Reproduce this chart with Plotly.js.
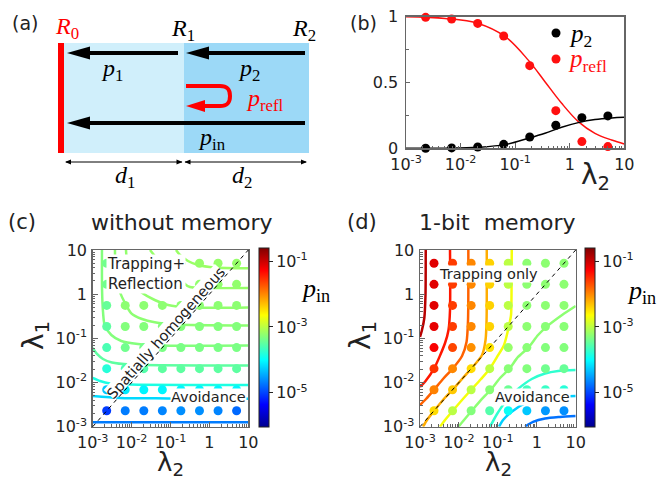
<!DOCTYPE html>
<html><head><meta charset="utf-8">
<script src="https://cdn.plot.ly/plotly-3.0.1.min.js"></script>
<style>html,body{margin:0;padding:0;background:#fff}#chart{width:671px;height:481px}</style>
</head><body><div id="chart"></div>
<script>
// ================= DATA =================
// lambda grid used by the simulations (both axes of c, d and x of b)
const lam = [0.00229, 0.00686, 0.0206, 0.0617, 0.185, 0.556, 1.67, 5.0];
const lamTickVals = [0.001, 0.01, 0.1, 1, 10];
const lamTickText = ['10<sup>-3</sup>', '10<sup>-2</sup>', '10<sup>-1</sup>', '1', '10'];

// (b) simulation points and theory curves
const pReflSim = [0.995, 0.982, 0.949, 0.853, 0.628, 0.286, 0.051, 0.013];
const p2Sim    = [0.000, 0.003, 0.010, 0.030, 0.086, 0.175, 0.233, 0.246];
const theoryLam   = [0.001, 0.00519, 0.0211, 0.0652, 0.174, 0.352, 0.711, 1.435, 2.90, 5.86, 10];
const pReflTheory = [1.000, 0.987, 0.949, 0.850, 0.670, 0.506, 0.342, 0.203, 0.114, 0.063, 0.033];
const p2Theory    = [0.000, 0.001, 0.008, 0.028, 0.076, 0.114, 0.160, 0.195, 0.218, 0.230, 0.235];

// (c) log10 p_in at the grid points, rows = lambda1 (bottom to top), cols = lambda2
const cLogPin = [
  [-5.05, -4.70, -4.70, -4.65, -4.60, -4.60, -4.65, -4.80],
  [-4.30, -4.10, -4.05, -4.05, -4.05, -4.05, -4.05, -4.05],
  [-3.80, -3.60, -3.55, -3.50, -3.50, -3.50, -3.50, -3.50],
  [-3.60, -3.40, -3.38, -3.35, -3.35, -3.35, -3.35, -3.35],
  [-3.50, -3.30, -3.30, -3.30, -3.30, -3.30, -3.30, -3.30],
  [-3.45, -3.25, -3.25, -3.25, -3.25, -3.25, -3.25, -3.25],
  [-3.40, -3.22, -3.22, -3.22, -3.22, -3.22, -3.22, -3.22],
  [-3.40, -3.20, -3.20, -3.20, -3.20, -3.20, -3.20, -3.20]
];
// (c) theory contour lines (lambda2, lambda1) and their log10 p_in level
const cContourLam2 = [
  [0.001, 0.1, 10],
  [0.001, 0.005, 0.0863, 10],
  [0.001, 0.00154, 0.00279, 0.0091, 10],
  [0.001, 0.00129, 0.00184, 0.00313, 0.0091, 10],
  [0.00173, 0.00174, 0.00184, 0.00203, 0.00301, 0.00543, 0.0146, 0.0537, 10],
  [0.00374, 0.00397, 0.00494, 0.00676, 0.00982, 0.0185, 0.0393, 0.1306, 10],
  [0.00718, 0.00808, 0.01153, 0.01746, 0.0393, 0.0863, 0.317, 10],
  [0.0297, 0.0537, 0.1094, 0.1755, 0.2223, 0.317, 0.770, 10],
  [0.1384, 0.1755, 0.2818, 0.509, 1.393, 10]
];
const cContourLam1 = [
  [0.00126, 0.00126, 0.00126],
  [0.00495, 0.00447, 0.00437, 0.00427],
  [0.0127, 0.0108, 0.0095, 0.0090, 0.0088],
  [0.0605, 0.0443, 0.0341, 0.0284, 0.0256, 0.0243],
  [10, 1.24, 0.401, 0.200, 0.119, 0.0871, 0.0745, 0.0689, 0.0689],
  [10, 2.09, 1.14, 0.631, 0.369, 0.274, 0.231, 0.206, 0.195],
  [10, 3.52, 1.614, 1.12, 0.738, 0.569, 0.500, 0.500],
  [10, 5.35, 3.18, 2.45, 1.79, 1.454, 1.38, 1.38],
  [10, 7.71, 5.64, 4.57, 4.02, 3.85]
];
const cContourLevel = [-4.7, -4.2, -3.85, -3.5, -3.3, -3.25, -3.22, -3.2, -3.18];

// (d) log10 p_in at the grid points
const dLogPin = [
  [-2.45, -3.00, -3.30, -3.55, -3.95, -4.30, -4.55, -4.60],
  [-1.97, -2.35, -3.00, -3.27, -3.43, -3.65, -3.70, -3.80],
  [-1.55, -2.00, -2.45, -3.00, -3.27, -3.30, -3.40, -3.45],
  [-1.25, -1.65, -2.05, -2.50, -3.20, -3.27, -3.30, -3.30],
  [-1.15, -1.60, -2.00, -2.40, -3.00, -3.25, -3.27, -3.27],
  [-1.12, -1.60, -2.00, -2.40, -3.00, -3.25, -3.25, -3.25],
  [-1.12, -1.60, -2.00, -2.40, -3.00, -3.25, -3.25, -3.25],
  [-1.12, -1.60, -2.00, -2.40, -3.00, -3.25, -3.25, -3.25]
];
const dContourLam2 = [
  [0.001403, 0.001384, 0.001291, 0.001125, 0.001],
  [0.0059, 0.0059, 0.0054, 0.0044, 0.00229, 0.001345, 0.001],
  [0.01745, 0.01714, 0.01568, 0.01202, 0.00689, 0.0039, 0.00229, 0.001426, 0.001],
  [0.0519, 0.0513, 0.0483, 0.0393, 0.0207, 0.01202, 0.00689, 0.0039, 0.00229, 0.001514, 0.001194],
  [0.2275, 0.2249, 0.2183, 0.194, 0.1442, 0.0953, 0.0619, 0.037, 0.0207, 0.01202, 0.00689, 0.0044, 0.00327],
  [10, 4.47, 1.806, 1.079, 0.608, 0.3304, 0.1977, 0.114, 0.0656, 0.037, 0.02133, 0.01352, 0.00977],
  [10, 3.53, 1.633, 0.743, 0.330, 0.1625, 0.0953, 0.0630],
  [10, 2.95, 1.216, 0.608, 0.2275, 0.136, 0.1075],
  [10, 3.97, 1.633, 0.803, 0.5]
];
const dContourLam1 = [
  [10, 0.958, 0.289, 0.1546, 0.1074],
  [10, 0.4385, 0.1546, 0.0785, 0.0206, 0.01044, 0.00793],
  [10, 0.2604, 0.0827, 0.0399, 0.0206, 0.01202, 0.00685, 0.00424, 0.0031],
  [10, 0.2604, 0.0918, 0.042, 0.0206, 0.01202, 0.00685, 0.00403, 0.00228, 0.00142, 0.001],
  [10, 1.243, 0.338, 0.194, 0.0708, 0.0379, 0.0206, 0.01202, 0.00685, 0.00403, 0.00228, 0.00142, 0.001],
  [0.54, 0.338, 0.1845, 0.119, 0.0618, 0.0379, 0.0206, 0.01268, 0.00685, 0.00403, 0.00228, 0.00142, 0.001],
  [0.01923, 0.01824, 0.01603, 0.01202, 0.00715, 0.00382, 0.00194, 0.001],
  [0.00495, 0.00471, 0.00435, 0.00368, 0.00219, 0.00142, 0.001],
  [0.00175, 0.00166, 0.00153, 0.00128, 0.001]
];
const dContourLevel = [-0.9, -1.4, -1.8, -2.2, -2.7, -3.25, -3.75, -4.25, -4.75];

const cbTickVals = [-1, -3, -5];
const cbTickText = ['10<sup>-1</sup>', '10<sup>-3</sup>', '10<sup>-5</sup>'];
const cbMinorVals = [-2, -4];

// ================= STYLE =================
const W = 671, H = 481;
const CMIN = -6.04, CMAX = -0.6;
const jetStops = [[0,[0,0,143]],[0.125,[0,0,255]],[0.375,[0,255,255]],[0.625,[255,255,0]],[0.875,[255,0,0]],[1,[128,0,0]]];
const jetScale = jetStops.map(s => [s[0], 'rgb(' + s[1].join(',') + ')']);
function jetColor(v) {
  let t = (v - CMIN) / (CMAX - CMIN); t = Math.max(0, Math.min(1, t));
  for (let i = 1; i < jetStops.length; i++) {
    if (t <= jetStops[i][0]) {
      const a = jetStops[i-1], b = jetStops[i], f = (t - a[0]) / (b[0] - a[0]);
      const c = a[1].map((v0, k) => Math.round(v0 + f * (b[1][k] - v0)));
      return 'rgb(' + c.join(',') + ')';
    }
  }
  return 'rgb(128,0,0)';
}
const SANS = 'DejaVu Sans';
const SERIF = 'Liberation Serif';
const AX = '#666';
const TICKFONT = {family: SANS, size: 16, color: '#222'};

function gridTrace(vals, xa, ya, cbX) {
  const x = [], y = [], c = [];
  for (let r = 0; r < lam.length; r++) for (let k = 0; k < lam.length; k++) {
    x.push(lam[k]); y.push(lam[r]); c.push(vals[r][k]);
  }
  return {type: 'scatter', mode: 'markers', x, y, xaxis: xa, yaxis: ya, showlegend: false,
    marker: {size: 9, color: c, colorscale: jetScale, cmin: CMIN, cmax: CMAX,
      colorbar: {x: cbX / W, xanchor: 'left', xpad: 0, y: 1 - 337.5 / H, yanchor: 'middle', ypad: 0,
        len: 179 / H, lenmode: 'fraction', thickness: 10, thicknessmode: 'pixels',
        outlinewidth: 1, outlinecolor: '#222', tickmode: 'array', tickvals: cbTickVals, ticktext: cbTickText,
        ticks: 'outside', ticklen: 4, tickcolor: '#222', tickfont: TICKFONT,
        minor: {tickmode: 'array', tickvals: cbMinorVals, ticks: 'outside', ticklen: 4, tickcolor: '#222'}}}};
}
function contourTraces(l2s, l1s, lev, xa, ya) {
  return l2s.map((xs, i) => ({type: 'scatter', mode: 'lines', x: xs, y: l1s[i], xaxis: xa, yaxis: ya,
    showlegend: false, line: {color: jetColor(lev[i]), width: 2.5, shape: 'spline', smoothing: 0.7}}));
}

const traces = [];
// (b)
traces.push({type: 'scatter', mode: 'lines', x: theoryLam, y: pReflTheory, xaxis: 'x', yaxis: 'y', showlegend: false,
  line: {color: '#ff1010', width: 1.5, shape: 'spline'}});
traces.push({type: 'scatter', mode: 'lines', x: theoryLam, y: p2Theory, xaxis: 'x', yaxis: 'y', showlegend: false,
  line: {color: '#000', width: 1.5, shape: 'spline'}});
traces.push({type: 'scatter', mode: 'markers', x: lam, y: p2Sim, xaxis: 'x', yaxis: 'y', showlegend: false, cliponaxis: false,
  marker: {size: 9, color: '#000'}});
traces.push({type: 'scatter', mode: 'markers', x: lam, y: pReflSim, xaxis: 'x', yaxis: 'y', showlegend: false, cliponaxis: false,
  marker: {size: 9, color: '#ff1010'}});
// (c)
contourTraces(cContourLam2, cContourLam1, cContourLevel, 'x2', 'y2').forEach(t => traces.push(t));
traces.push(gridTrace(cLogPin, 'x2', 'y2', 259.3));
// (d)
contourTraces(dContourLam2, dContourLam1, dContourLevel, 'x3', 'y3').forEach(t => traces.push(t));
traces.push(gridTrace(dLogPin, 'x3', 'y3', 585));
// pixel overlay for the diagram and labels
traces.push({type: 'scatter', x: [], y: [], xaxis: 'x4', yaxis: 'y4', showlegend: false});

const minorLog = [];
for (let e = -3; e < 1; e++) for (let m = 2; m < 10; m++) minorLog.push(m * Math.pow(10, e));

function logAxis(domain, anchor) {
  return {type: 'log', domain, anchor, range: [-3, 1], tickmode: 'array', tickvals: lamTickVals, ticktext: lamTickText,
    ticks: 'inside', ticklen: 5, tickwidth: 1, tickcolor: AX, showline: true, linecolor: AX, linewidth: 1.5, mirror: true,
    showgrid: false, zeroline: false, tickfont: TICKFONT, ticklabelstandoff: 1,
    minor: {tickmode: 'array', tickvals: minorLog, ticks: 'inside', ticklen: 2.5, tickcolor: AX, showgrid: false}};
}
const px = v => v / W, py = v => 1 - v / H;

const layout = {
  width: W, height: H, margin: {l: 0, r: 0, t: 0, b: 0}, paper_bgcolor: '#fff', plot_bgcolor: 'rgba(0,0,0,0)',
  showlegend: false, font: {family: SANS, color: '#222'},
  xaxis: logAxis([px(406), px(624.3)], 'y'),
  yaxis: {domain: [py(148.3), py(16.7)], anchor: 'x', range: [0, 1], tickmode: 'array', tickvals: [0, 0.5, 1],
    ticktext: ['0', '0.5', '1'], ticks: 'inside', ticklen: 4, tickcolor: AX, showline: true, linecolor: AX,
    linewidth: 1.5, mirror: true, showgrid: false, zeroline: false, tickfont: TICKFONT, ticklabelstandoff: 3,
    minor: {tickmode: 'array', tickvals: [0.25, 0.75], ticks: 'inside', ticklen: 3, tickcolor: AX, showgrid: false}},
  xaxis2: logAxis([px(92.7), px(248.3)], 'y2'),
  yaxis2: logAxis([py(426.7), py(250)], 'x2'),
  xaxis3: logAxis([px(420), px(575.7)], 'y3'),
  yaxis3: logAxis([py(426.7), py(250)], 'x3'),
  xaxis4: {domain: [0, 1], range: [0, W], anchor: 'y4', visible: false, fixedrange: true},
  yaxis4: {domain: [0, 1], range: [H, 0], anchor: 'x4', visible: false, fixedrange: true},
  shapes: [], annotations: []
};

const S = layout.shapes, A = layout.annotations;
function pshape(o) { S.push(Object.assign({xref: 'x4', yref: 'y4', layer: 'above'}, o)); }
function rect(x0, y0, x1, y1, fill) { pshape({type: 'rect', x0, y0, x1, y1, fillcolor: fill, line: {width: 0}}); }
function line(x0, y0, x1, y1, color, w) { pshape({type: 'line', x0, y0, x1, y1, line: {color, width: w}}); }
function path(p, fill, lc, w) { pshape({type: 'path', path: p, fillcolor: fill, line: {color: lc || fill, width: w == null ? 0 : w}}); }
function headL(x, y, len, hw, col) { path(`M${x},${y} L${x+len},${y-hw} L${x+len},${y+hw} Z`, col); }
function headR(x, y, len, hw, col) { path(`M${x},${y} L${x-len},${y-hw} L${x-len},${y+hw} Z`, col); }
function txt(x, y, text, size, opts) {
  A.push(Object.assign({xref: 'x4', yref: 'y4', x, y, text, showarrow: false,
    font: {family: SANS, size, color: '#222'}, xanchor: 'center', yanchor: 'middle'}, opts || {}));
}

// ---- (a) diagram ----
rect(64, 43, 184, 153, '#d0effb');
rect(184, 43, 309, 153, '#9cd9f7');
rect(58, 43, 64, 153, '#ff0000');
line(88, 53, 178, 53, '#000', 4); headL(67, 53, 23, 6.5, '#000');
line(207, 53, 305, 53, '#000', 4); headL(186, 53, 23, 6.5, '#000');
line(88, 123, 305, 123, '#000', 4); headL(67, 123, 23, 6.5, '#000');
path('M186,86 L220,86 C228,86 230,90 230,96 C230,102 228,106 220,106 L203,106', 'rgba(0,0,0,0)', '#ff0000', 4);
headL(186, 106, 19, 6, '#ff0000');
line(66, 162, 182, 162, '#000', 1); headL(65, 162, 6, 2.5, '#000'); headR(182.5, 162, 6, 2.5, '#000');
line(185, 162, 306, 162, '#000', 1); headL(184.5, 162, 6, 2.5, '#000'); headR(307, 162, 6, 2.5, '#000');
const MATH = (c) => ({font: {family: SERIF, size: 24, color: c || '#000'}});
txt(67, 28, '<i>R</i><sub>0</sub>', 24, MATH('#ff0000'));
txt(183, 30, '<i>R</i><sub>1</sub>', 24, MATH());
txt(304, 30, '<i>R</i><sub>2</sub>', 24, MATH());
txt(112, 70, '<i>p</i><sub>1</sub>', 24, MATH());
txt(249, 70, '<i>p</i><sub>2</sub>', 24, MATH());
txt(265, 100, '<i>p</i><sub>refl</sub>', 24, MATH('#ff0000'));
txt(212, 139, '<i>p</i><sub>in</sub>', 24, MATH());
txt(125, 177, '<i>d</i><sub>1</sub>', 24, MATH());
txt(242, 177, '<i>d</i><sub>2</sub>', 24, MATH());

// ---- panel letters & titles ----
txt(25, 23, '(a)', 19);
txt(363, 23, '(b)', 19);
txt(22, 222, '(c)', 21);
txt(182, 222, 'without memory', 22);
txt(362, 222, '(d)', 21);
txt(497, 222, '1-bit\u00a0 memory', 22);

// ---- (b) legend & axis label ----
pshape({type: 'circle', x0: 551.5, y0: 28.5, x1: 560.5, y1: 37.5, fillcolor: '#000', line: {width: 0}});
pshape({type: 'circle', x0: 551.5, y0: 54.5, x1: 560.5, y1: 63.5, fillcolor: '#ff1010', line: {width: 0}});
txt(567, 35, '<i>p</i><sub>2</sub>', 25, {xanchor: 'left', font: {family: SERIF, size: 25, color: '#000'}});
txt(566, 60, '<i>p</i><sub>refl</sub>', 25, {xanchor: 'left', font: {family: SERIF, size: 25, color: '#ff1010'}});
txt(595, 176, 'λ<sub>2</sub>', 28);

// ---- axis titles c, d ----
txt(170, 463, 'λ<sub>2</sub>', 26);
txt(35, 336, 'λ<sub>1</sub>', 28, {textangle: -90});
txt(498, 463, 'λ<sub>2</sub>', 26);
txt(362, 336, 'λ<sub>1</sub>', 28, {textangle: -90});
txt(315, 290, '<i>p</i><sub>in</sub>', 26, {font: {family: SERIF, size: 26, color: '#000'}});
txt(641, 292, '<i>p</i><sub>in</sub>', 26, {font: {family: SERIF, size: 26, color: '#000'}});

// ---- region labels ----
txt(106, 273.5, 'Trapping+<br>Reflection', 15, {xanchor: 'left', align: 'left', bgcolor: '#fff', borderpad: 0});
txt(208, 397, 'Avoidance', 14.5, {bgcolor: '#fff', borderpad: 0});
txt(488, 273.5, 'Trapping only', 14.5, {bgcolor: '#fff', borderpad: 0});
txt(532, 397, 'Avoidance', 14.5, {bgcolor: '#fff', borderpad: 0});
// rotated label with white backing, diagonal drawn on top
(function () {
  const cx = 166, cy = 333, ang = 48.6 * Math.PI / 180;
  const u = [Math.cos(ang), -Math.sin(ang)], n = [-Math.sin(ang), -Math.cos(ang)];
  const a = 84, lo = -6, hi = 9;
  const P = (s, t) => [cx + s * u[0] + t * n[0], cy + s * u[1] + t * n[1]].map(v => v.toFixed(1)).join(',');
  path(`M${P(-a, lo)} L${P(a, lo)} L${P(a, hi)} L${P(-a, hi)} Z`, '#fff');
  txt(cx, cy, 'Spatially homogeneous', 14.5, {textangle: -48.6});
})();
S.push({type: 'line', xref: 'x2 domain', yref: 'y2 domain', x0: 0, y0: 0, x1: 1, y1: 1, layer: 'above',
  line: {color: '#000', width: 1, dash: '4px,4px'}});
S.push({type: 'line', xref: 'x3 domain', yref: 'y3 domain', x0: 0, y0: 0, x1: 1, y1: 1, layer: 'above',
  line: {color: '#000', width: 1, dash: '4px,4px'}});

Plotly.newPlot('chart', traces, layout, {staticPlot: true, displayModeBar: false});
</script></body></html>
